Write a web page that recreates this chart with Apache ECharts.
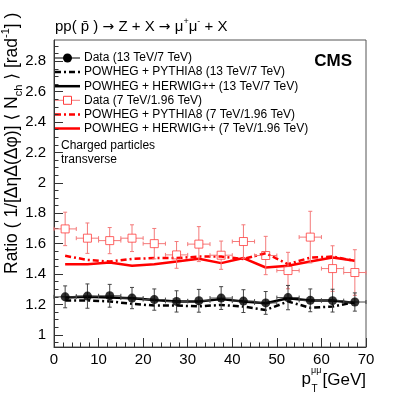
<!DOCTYPE html>
<html><head><meta charset="utf-8">
<script src="https://cdn.jsdelivr.net/npm/echarts@6/dist/echarts.min.js"></script>
<style>html,body{margin:0;padding:0;background:#fff}#c{width:407px;height:396px}</style>
</head><body><div id="c"></div>
<script>
// ---- data ----
const ptBins = [2.5, 7.5, 12.5, 17.5, 22.5, 27.5, 32.5, 37.5, 42.5, 47.5, 52.5, 57.5, 62.5, 67.5];
const binHalf = 2.5;
const data13 = [1.250, 1.255, 1.257, 1.242, 1.232, 1.220, 1.224, 1.242, 1.222, 1.210, 1.245, 1.227, 1.225, 1.216];
const err13  = [0.072, 0.080, 0.075, 0.070, 0.070, 0.070, 0.075, 0.075, 0.075, 0.075, 0.080, 0.075, 0.075, 0.060];
const data7  = [1.697, 1.636, 1.620, 1.636, 1.600, 1.526, 1.597, 1.524, 1.614, 1.522, 1.423, 1.643, 1.436, 1.410];
const err7   = [0.110, 0.100, 0.086, 0.088, 0.100, 0.088, 0.115, 0.093, 0.110, 0.126, 0.120, 0.170, 0.150, 0.150];
const herwig13 = [1.245, 1.250, 1.245, 1.240, 1.230, 1.220, 1.220, 1.235, 1.219, 1.208, 1.241, 1.226, 1.226, 1.210];
const pythia13 = [1.226, 1.226, 1.220, 1.204, 1.193, 1.193, 1.187, 1.197, 1.186, 1.164, 1.219, 1.178, 1.186, 1.215];
const herwig7  = [1.465, 1.465, 1.476, 1.454, 1.465, 1.482, 1.500, 1.472, 1.505, 1.443, 1.454, 1.482, 1.509, 1.487];
const pythia7  = [1.520, 1.493, 1.482, 1.500, 1.505, 1.505, 1.515, 1.515, 1.499, 1.537, 1.465, 1.508, 1.515, 1.487];
const yMajorTicks = [1, 1.2, 1.4, 1.6, 1.8, 2, 2.2, 2.4, 2.6, 2.8];
const xRange = [0, 70];
const yRange = [0.92, 2.94];
const legendLabels = [
  'Data (13 TeV/7 TeV)',
  'POWHEG + PYTHIA8 (13 TeV/7 TeV)',
  'POWHEG + HERWIG++ (13 TeV/7 TeV)',
  'Data (7 TeV/1.96 TeV)',
  'POWHEG + PYTHIA8 (7 TeV/1.96 TeV)',
  'POWHEG + HERWIG++ (7 TeV/1.96 TeV)'
];

// ---- helpers ----
const FONT = "'Liberation Sans', Arial, 'DejaVu Sans', sans-serif";
const yMinorTicks = [];
for (let k = 19; k <= 58; k++) { if (k % 4 !== 0) yMinorTicks.push(Math.round(k * 5) / 100); }
const pairs = (ys) => ptBins.map((x, i) => [x, ys[i]]);
const triples = (ys, es) => ptBins.map((x, i) => [x, ys[i], es[i]]);
const DASHDOT = [6, 3, 2, 3];
const RED = '#ff0000';
const RED_ERR = '#f47a7a';
const RED_MK = '#ff3c3c';

function errRender(color, gap, cap) {
  return function (params, api) {
    const x = api.value(0), y = api.value(1), e = api.value(2);
    const c = api.coord([x, y]);
    const t = api.coord([x, y + e]);
    const b = api.coord([x, y - e]);
    const l = api.coord([x - binHalf, y]);
    const r = api.coord([x + binHalf, y]);
    const st = { stroke: color, lineWidth: 1 };
    const seg = (x1, y1, x2, y2) => ({ type: 'line', shape: { x1, y1, x2, y2 }, style: st });
    return { type: 'group', children: [
      seg(c[0], t[1], c[0], c[1] - gap),
      seg(c[0], c[1] + gap, c[0], b[1]),
      seg(l[0], c[1], c[0] - gap, c[1]),
      seg(c[0] + gap, c[1], r[0], c[1]),
      seg(c[0] - cap, t[1], c[0] + cap, t[1]),
      seg(c[0] - cap, b[1], c[0] + cap, b[1]),
      seg(l[0], c[1] - cap, l[0], c[1] + cap),
      seg(r[0], c[1] - cap, r[0], c[1] + cap)
    ] };
  };
}

function txt(text, x, y, opts) {
  return Object.assign({
    type: 'text', x: x, y: y, silent: true,
    style: Object.assign({ text: text, fontFamily: FONT, fontSize: 12, fill: '#000',
      align: 'left', textAlign: 'left', verticalAlign: 'middle', textVerticalAlign: 'middle' }, opts || {})
  });
}

// legend graphics
const legY0 = 58, legDy = 14.1, lx0 = 55, lx1 = 80;
const legendEls = [];
legendLabels.forEach((lab, i) => {
  const y = legY0 + i * legDy;
  legendEls.push(txt(lab, 84, y));
  if (i === 0) {
    legendEls.push({ type: 'line', shape: { x1: lx0, y1: y, x2: lx1, y2: y }, style: { stroke: '#000', lineWidth: 1 } });
    legendEls.push({ type: 'circle', shape: { cx: 67.5, cy: y, r: 4.5 }, style: { fill: '#000' } });
  } else if (i === 3) {
    legendEls.push({ type: 'line', shape: { x1: lx0, y1: y, x2: lx1, y2: y }, style: { stroke: RED_ERR, lineWidth: 1 } });
    legendEls.push({ type: 'rect', shape: { x: 63.5, y: y - 4, width: 8, height: 8 }, style: { fill: '#fff', stroke: RED_MK, lineWidth: 1 } });
  } else {
    const col = i < 3 ? '#000' : RED;
    const dash = (i === 1 || i === 4) ? DASHDOT : null;
    legendEls.push({ type: 'line', shape: { x1: lx0, y1: y, x2: lx1, y2: y }, style: { stroke: col, lineWidth: 2.5, lineDash: dash } });
  }
});

const graphics = [
  // title
  txt('{n|pp( p\u0304 ) }{a|\u2192}{n| Z + X }{a|\u2192}{n| \u03bc}{s|+}{n|\u03bc}{s|-}{n| + X}', 55, 27, {
    rich: {
      n: { fontFamily: FONT, fontSize: 15, lineHeight: 20 },
      a: { fontFamily: "'DejaVu Sans', sans-serif", fontSize: 14, lineHeight: 20 },
      s: { fontFamily: FONT, fontSize: 9, lineHeight: 9, verticalAlign: 'top' }
    }
  }),
  // CMS
  txt('CMS', 352, 61, { fontSize: 17, fontWeight: 'bold', align: 'right', textAlign: 'right' }),
  // annotation
  txt('Charged particles', 61, 146),
  txt('transverse', 61, 160),
  // x title
  txt('[GeV]', 366, 380, { fontSize: 17, align: 'right', textAlign: 'right' }),
  txt('p', 311, 379, { fontSize: 17, align: 'right', textAlign: 'right' }),
  txt('\u03bc\u03bc', 311, 371, { fontSize: 9 }),
  txt('T', 311.5, 389, { fontSize: 10 }),
  // y title
  Object.assign(txt('{n|Ratio ( 1/[\u0394\u03b7\u0394(\u0394\u03c6)] \u27e8 N}{b|ch}{n| \u27e9 [rad}{s|-1}{n|] )}', 0, 0, {
    rich: {
      n: { fontFamily: FONT, fontSize: 17.5, lineHeight: 24 },
      b: { fontFamily: FONT, fontSize: 11, lineHeight: 11, verticalAlign: 'bottom' },
      s: { fontFamily: FONT, fontSize: 11, lineHeight: 11, verticalAlign: 'top' }
    }
  }), { x: 12, y: 274, rotation: Math.PI / 2 })
].concat(legendEls);

const chart = echarts.init(document.getElementById('c'), null, { renderer: 'canvas' });
chart.setOption({
  animation: false,
  backgroundColor: '#fff',
  grid: [
    { left: 54, right: 41, top: 40, bottom: 49, show: true, borderColor: '#555', borderWidth: 1, backgroundColor: 'transparent', containLabel: false },
    { left: 54, right: 41, top: 40, bottom: 49, show: false, containLabel: false }
  ],
  xAxis: [
    { type: 'value', gridIndex: 0, min: xRange[0], max: xRange[1], interval: 10,
      axisLine: { show: true, lineStyle: { color: '#333', width: 1 } },
      axisTick: { show: true, inside: true, length: 9, lineStyle: { color: '#333' } },
      minorTick: { show: true, splitNumber: 5, length: 4.5, lineStyle: { color: '#333' } },
      axisLabel: { color: '#000', fontSize: 15, fontFamily: FONT, margin: 5 },
      splitLine: { show: false } },
    { type: 'value', gridIndex: 1, min: xRange[0], max: xRange[1], show: false }
  ],
  yAxis: [
    { type: 'value', gridIndex: 0, min: yRange[0], max: yRange[1],
      axisLine: { show: true, lineStyle: { color: '#333', width: 1 } },
      axisTick: { show: true, inside: true, length: 9, customValues: yMajorTicks, lineStyle: { color: '#333' } },
      axisLabel: { color: '#000', fontSize: 15, fontFamily: FONT, margin: 8, customValues: yMajorTicks,
        formatter: v => String(+v.toFixed(1)) },
      splitLine: { show: false } },
    { type: 'value', gridIndex: 1, min: yRange[0], max: yRange[1], position: 'left',
      axisLine: { show: false },
      axisTick: { show: true, inside: true, length: 4.5, customValues: yMinorTicks, lineStyle: { color: '#333' } },
      axisLabel: { show: false }, splitLine: { show: false } }
  ],
  series: [
    { type: 'line', data: pairs(pythia13), symbol: 'none', lineStyle: { color: '#000', width: 2.5, type: DASHDOT }, z: 2 },
    { type: 'line', data: pairs(herwig13), symbol: 'none', lineStyle: { color: '#000', width: 2.5 }, z: 2 },
    { type: 'line', data: pairs(pythia7), symbol: 'none', lineStyle: { color: RED, width: 2.5, type: DASHDOT }, z: 2 },
    { type: 'line', data: pairs(herwig7), symbol: 'none', lineStyle: { color: RED, width: 2.5 }, z: 2 },
    { type: 'custom', data: triples(data7, err7), encode: { x: 0, y: 1 }, renderItem: errRender(RED_ERR, 4, 2), z: 3 },
    { type: 'custom', data: triples(data13, err13), encode: { x: 0, y: 1 }, renderItem: errRender('#444', 0, 2), z: 3 },
    { type: 'scatter', data: pairs(data7), symbol: 'rect', symbolSize: 8,
      itemStyle: { color: 'rgba(255,255,255,0)', borderColor: RED_MK, borderWidth: 1 }, z: 4 },
    { type: 'scatter', data: pairs(data13), symbol: 'circle', symbolSize: 9, itemStyle: { color: '#000' }, z: 4 }
  ],
  graphic: graphics
});
</script>
</body></html>
